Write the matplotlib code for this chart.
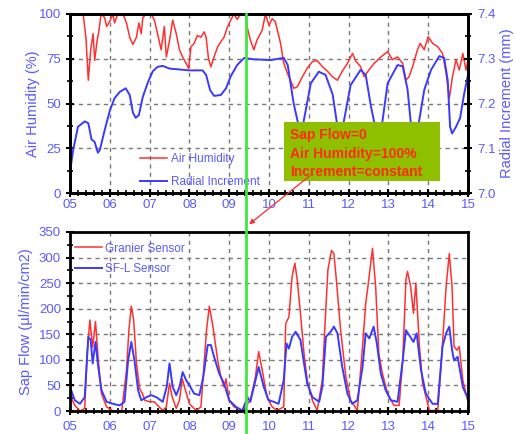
import matplotlib
matplotlib.use("Agg")
import matplotlib.pyplot as plt
from matplotlib.ticker import MultipleLocator, FixedLocator
from matplotlib.patches import Rectangle, FancyArrowPatch
from matplotlib.lines import Line2D
import matplotlib.transforms as mtransforms

# ---------------- data ----------------
hum_days = [5.0, 5.33, 5.4, 5.46, 5.52, 5.58, 5.62, 5.68, 5.73, 5.78, 5.87, 5.92, 6.0, 6.08, 6.12,
            6.2, 6.33, 6.42, 6.5, 6.58, 6.67, 6.73, 6.79, 6.83, 6.92, 7.04, 7.12, 7.2, 7.29, 7.37,
            7.42, 7.5, 7.58, 7.67, 7.75, 7.83, 7.92, 7.98, 8.04, 8.12, 8.2, 8.29, 8.37, 8.42, 8.48,
            8.54, 8.62, 8.71, 8.79, 8.87, 8.96, 9.04, 9.12, 9.2, 9.29, 9.41, 9.46, 9.53, 9.62, 9.7,
            9.83, 9.91, 10.0, 10.08, 10.16, 10.29, 10.37, 10.46, 10.54, 10.62, 10.71, 10.84, 10.96,
            11.09, 11.21, 11.34, 11.47, 11.59, 11.72, 11.84, 11.97, 12.1, 12.18, 12.3, 12.39, 12.51,
            12.64, 12.81, 12.98, 13.1, 13.23, 13.36, 13.44, 13.52, 13.61, 13.73, 13.8, 13.9, 14.0,
            14.11, 14.24, 14.36, 14.45, 14.53, 14.61, 14.7, 14.78, 14.87, 14.95, 15.0]
hum_vals = [100, 100, 87, 63, 80, 89, 74, 85, 91, 100, 98, 93, 96, 100, 95,
            100, 100, 95, 87, 83, 87, 95, 89, 98, 100, 100, 96.6, 89, 80, 93,
            76, 85, 96.6, 89, 80, 76, 72.4, 69.6, 81.7, 83.6, 88, 87, 90, 87, 75,
            70.5, 76, 81.7, 84.5, 87, 93, 96.6, 100, 97, 100, 100, 92, 85.5, 80, 85.5,
            91, 100, 93.7, 97.4, 95.6, 83.6, 72.6, 67, 63, 58.5, 59.3, 65, 69.7,
            73.4, 74, 70.6, 68, 65, 63, 68, 72.4, 78, 73.7, 70.7, 65, 68.7,
            72.4, 76, 79, 74.5, 76, 72.4, 63, 65, 70.7, 80, 83.6, 80, 87.3,
            83.6, 81.7, 78, 67, 53, 65, 74.5, 68.7, 78, 68.7, 74.5]

rad_days = [5.0, 5.08, 5.2, 5.37, 5.46, 5.54, 5.62, 5.7, 5.75, 5.87, 6.0, 6.12, 6.25, 6.4, 6.5,
            6.58, 6.65, 6.73, 6.83, 6.96, 7.08, 7.2, 7.33, 7.5, 7.75, 8.0, 8.33, 8.42, 8.52, 8.62,
            8.79, 8.92, 9.04, 9.2, 9.38, 9.58, 10.04, 10.37, 10.47, 10.62, 10.72, 10.8, 10.87,
            11.05, 11.25, 11.42, 11.6, 11.7, 11.78, 11.88, 12.05, 12.3, 12.43, 12.56, 12.64, 12.75,
            12.85, 12.98, 13.23, 13.36, 13.48, 13.56, 13.67, 13.77, 13.9, 14.07, 14.28, 14.4,
            14.49, 14.55, 14.6, 14.7, 14.8, 14.9, 15.0]
rad_mm = [7.047, 7.096, 7.148, 7.160, 7.156, 7.120, 7.114, 7.090, 7.096, 7.140, 7.184, 7.212, 7.226,
          7.234, 7.219, 7.180, 7.168, 7.174, 7.215, 7.248, 7.272, 7.282, 7.284, 7.278, 7.276, 7.274,
          7.274, 7.264, 7.230, 7.217, 7.219, 7.234, 7.261, 7.286, 7.302, 7.299, 7.297, 7.302, 7.286,
          7.200, 7.160, 7.100, 7.160, 7.245, 7.271, 7.264, 7.220, 7.160, 7.100, 7.160, 7.241, 7.275,
          7.264, 7.194, 7.160, 7.100, 7.160, 7.245, 7.286, 7.283, 7.232, 7.160, 7.100, 7.160, 7.230,
          7.275, 7.306, 7.302, 7.252, 7.148, 7.133, 7.148, 7.167, 7.220, 7.264]

gran_days = [5.0, 5.12, 5.25, 5.37, 5.43, 5.5, 5.57, 5.64, 5.71, 5.79, 5.92, 6.08, 6.3, 6.42, 6.48,
             6.54, 6.6, 6.67, 6.75, 6.82, 6.88, 7.0, 7.12, 7.2, 7.33, 7.42, 7.5, 7.57, 7.67, 7.75,
             7.82, 7.9, 8.0, 8.17, 8.29, 8.37, 8.43, 8.5, 8.58, 8.71, 8.79, 8.87, 8.92, 9.0, 9.12,
             9.33, 9.53, 9.66, 9.74, 9.83, 9.95, 10.08, 10.2, 10.37, 10.42, 10.5, 10.58, 10.65,
             10.71, 10.79, 10.88, 10.96, 11.09, 11.21, 11.34, 11.4, 11.48, 11.57, 11.63, 11.7, 11.8,
             11.93, 12.05, 12.22, 12.35, 12.43, 12.49, 12.56, 12.6, 12.68, 12.76, 12.85, 12.98,
             13.14, 13.27, 13.36, 13.44, 13.48, 13.56, 13.63, 13.69, 13.78, 13.86, 14.03, 14.24,
             14.36, 14.45, 14.53, 14.6, 14.65, 14.72, 14.78, 14.87, 15.0]
gran_vals = [31, 11, 0, 5, 112, 178, 125, 175, 100, 34, 8, 0, 0, 80, 158,
             205, 178, 93, 44, 34, 21, 18, 18, 11, 1, 8, 54, 27, 5, 21,
             63, 41, 14, 1, 8, 93, 158, 205, 171, 100, 67, 47, 63, 21, 8,
             1, 21, 67, 116, 80, 27, 8, 1, 8, 171, 184, 263, 289,
             256, 191, 112, 60, 21, 1, 60, 158, 276, 314, 308, 250, 158,
             67, 21, 1, 126, 210, 246, 292, 318, 243, 112, 73, 34,
             11, 11, 99, 256, 273, 243, 191, 250, 126, 54, 1, 1,
             132, 243, 308, 243, 126, 119, 126, 60, 18]

sfl_days = [5.0, 5.12, 5.25, 5.37, 5.46, 5.52, 5.57, 5.64, 5.71, 5.79, 5.92, 6.08, 6.25, 6.37, 6.46,
            6.54, 6.62, 6.71, 6.79, 6.92, 7.04, 7.17, 7.33, 7.43, 7.5, 7.58, 7.67, 7.75, 7.83, 7.92,
            8.0, 8.12, 8.25, 8.35, 8.46, 8.54, 8.62, 8.75, 8.87, 9.0, 9.17, 9.33, 9.46, 9.53, 9.62,
            9.74, 9.87, 9.99, 10.12, 10.24, 10.37, 10.44, 10.5, 10.58, 10.67, 10.79, 10.88, 10.96,
            11.09, 11.26, 11.34, 11.43, 11.55, 11.63, 11.72, 11.84, 11.97, 12.09, 12.22, 12.35,
            12.43, 12.52, 12.63, 12.71, 12.81, 12.93, 13.06, 13.23, 13.36, 13.44, 13.55, 13.63,
            13.71, 13.82, 13.94, 14.11, 14.24, 14.36, 14.45, 14.53, 14.6, 14.65, 14.74, 14.87, 15.0]
sfl_vals = [47, 21, 14, 27, 145, 139, 93, 135, 86, 41, 18, 14, 11, 18, 99,
            135, 99, 41, 21, 27, 31, 27, 18, 47, 93, 47, 31, 47, 76, 60,
            50, 34, 31, 67, 129, 129, 106, 73, 54, 21, 8, 1, 27, 18, 47,
            86, 47, 21, 18, 14, 60, 132, 122, 145, 155, 139, 93, 54,
            27, 18, 47, 145, 155, 165, 152, 86, 34, 14, 21, 86,
            152, 142, 165, 132, 73, 41, 21, 18, 99, 158, 145, 135,
            152, 80, 34, 14, 14, 126, 152, 165, 119, 99, 106, 47, 24]

x_ticks = [5, 6, 7, 8, 9, 10, 11, 12, 13, 14, 15]
x_labels = ["05", "06", "07", "08", "09", "10", "11", "12", "13", "14", "15"]
event_day = 9.41
note_lines = ["Sap Flow=0", "Air Humidity=100%", "Increment=constant"]

# ---------------- style ----------------
plt.rcParams['font.family'] = ['Liberation Sans', 'DejaVu Sans']
RED = '#ff3030'
BLUE = '#3a3aff'
LBL = '#5a5aff'
GRID = '#7a7a7a'

W, H = 515, 434
fig = plt.figure(figsize=(W / 100, H / 100), dpi=100)
ax1 = fig.add_axes([70 / W, 1 - 193 / H, 398 / W, 179 / H])
ax3 = fig.add_axes([70 / W, 1 - 411 / H, 398 / W, 179 / H])


def style_axis(ax):
    for s in ax.spines.values():
        s.set_linewidth(2.0)
        s.set_color('black')
    ax.tick_params(which='major', direction='inout', length=6, width=1.5, colors='black',
                   labelcolor=LBL, labelsize=9.5)
    ax.tick_params(which='minor', direction='inout', length=4, width=1.2, colors='black')


# top panel
ax1.plot(hum_days, hum_vals, color=RED, lw=1.1, label='Air Humidity')
ax1.set_xlim(5, 15)
ax1.set_ylim(0, 100)
ax1.yaxis.set_major_locator(FixedLocator([0, 25, 50, 75, 100]))
ax1.yaxis.set_minor_locator(MultipleLocator(12.5))
ax1.xaxis.set_major_locator(FixedLocator(x_ticks))
ax1.xaxis.set_minor_locator(MultipleLocator(0.2))
ax1.set_xticklabels(x_labels)
ax1.grid(True, which='major', color=GRID, linestyle=(0, (3, 3)), lw=1)
ax1.set_ylabel('Air Humidity (%)', color=LBL, fontsize=10.5, labelpad=-1)
style_axis(ax1)
ax1.tick_params(axis='x', pad=1.5)

ax2 = ax1.twinx()
ax2.plot(rad_days, rad_mm, color=BLUE, lw=1.4, label='Radial Increment')
ax2.set_ylim(7.0, 7.4)
ax2.yaxis.set_major_locator(FixedLocator([7.0, 7.1, 7.2, 7.3, 7.4]))
ax2.yaxis.set_minor_locator(MultipleLocator(0.05))
ax2.set_yticklabels(['7.0', '7.1', '7.2', '7.3', '7.4'])
ax2.set_ylabel('Radial Increment (mm)', color=LBL, fontsize=10.5, labelpad=3)
style_axis(ax2)

h1, l1 = ax1.get_legend_handles_labels()
h2, l2 = ax2.get_legend_handles_labels()
leg = ax2.legend(h1 + h2, l1 + l2, loc='lower left', bbox_to_anchor=(0.15, -0.03), frameon=False,
                 fontsize=8.5, handlelength=2.3, handletextpad=0.3, labelspacing=0.9)
for t in leg.get_texts():
    t.set_color(LBL)

# annotation box
ax2.add_patch(Rectangle((0.538, 0.067), 0.392, 0.330, transform=ax2.transAxes,
                        facecolor='#8fc000', edgecolor='none', zorder=5, clip_on=False))
for i, line in enumerate(note_lines):
    ax2.text(0.553, 0.322 - i * 0.102, line, transform=ax2.transAxes, color='#ff2a00',
             fontsize=10, fontweight='bold', va='center', ha='left', zorder=6)

# bottom panel
ax3.plot(gran_days, gran_vals, color=RED, lw=1.1, label='Granier Sensor')
ax3.plot(sfl_days, sfl_vals, color=BLUE, lw=1.4, label='SF-L Sensor')
ax3.set_xlim(5, 15)
ax3.set_ylim(0, 350)
ax3.yaxis.set_major_locator(MultipleLocator(50))
ax3.yaxis.set_minor_locator(MultipleLocator(25))
ax3.xaxis.set_major_locator(FixedLocator(x_ticks))
ax3.xaxis.set_minor_locator(MultipleLocator(0.2))
ax3.set_xticklabels(x_labels)
ax3.grid(True, which='major', color=GRID, linestyle=(0, (3, 3)), lw=1)
ax3.set_ylabel('Sap Flow (µl/min/cm2)', color=LBL, fontsize=10.5, labelpad=4)
style_axis(ax3)
ax3.tick_params(axis='x', pad=4)
leg3 = ax3.legend(loc='upper left', bbox_to_anchor=(-0.015, 1.0), frameon=False, fontsize=8.5,
                  handlelength=2.3, handletextpad=0.3, labelspacing=0.75)
for t in leg3.get_texts():
    t.set_color(LBL)

# green event line spanning both panels
trans = mtransforms.blended_transform_factory(ax1.transData, fig.transFigure)
fig.add_artist(Line2D([event_day, event_day], [1 - 14 / H, 1 - 432 / H], transform=trans,
                      color='#3ee83e', lw=2.0, zorder=10))

# red arrow
fig.add_artist(FancyArrowPatch((312 / W, 1 - 174 / H), (247 / W, 1 - 226 / H),
                               transform=fig.transFigure, arrowstyle='-|>', mutation_scale=7,
                               color='#ff2a2a', lw=0.9, zorder=11))

fig.savefig('out.png', dpi=100)
